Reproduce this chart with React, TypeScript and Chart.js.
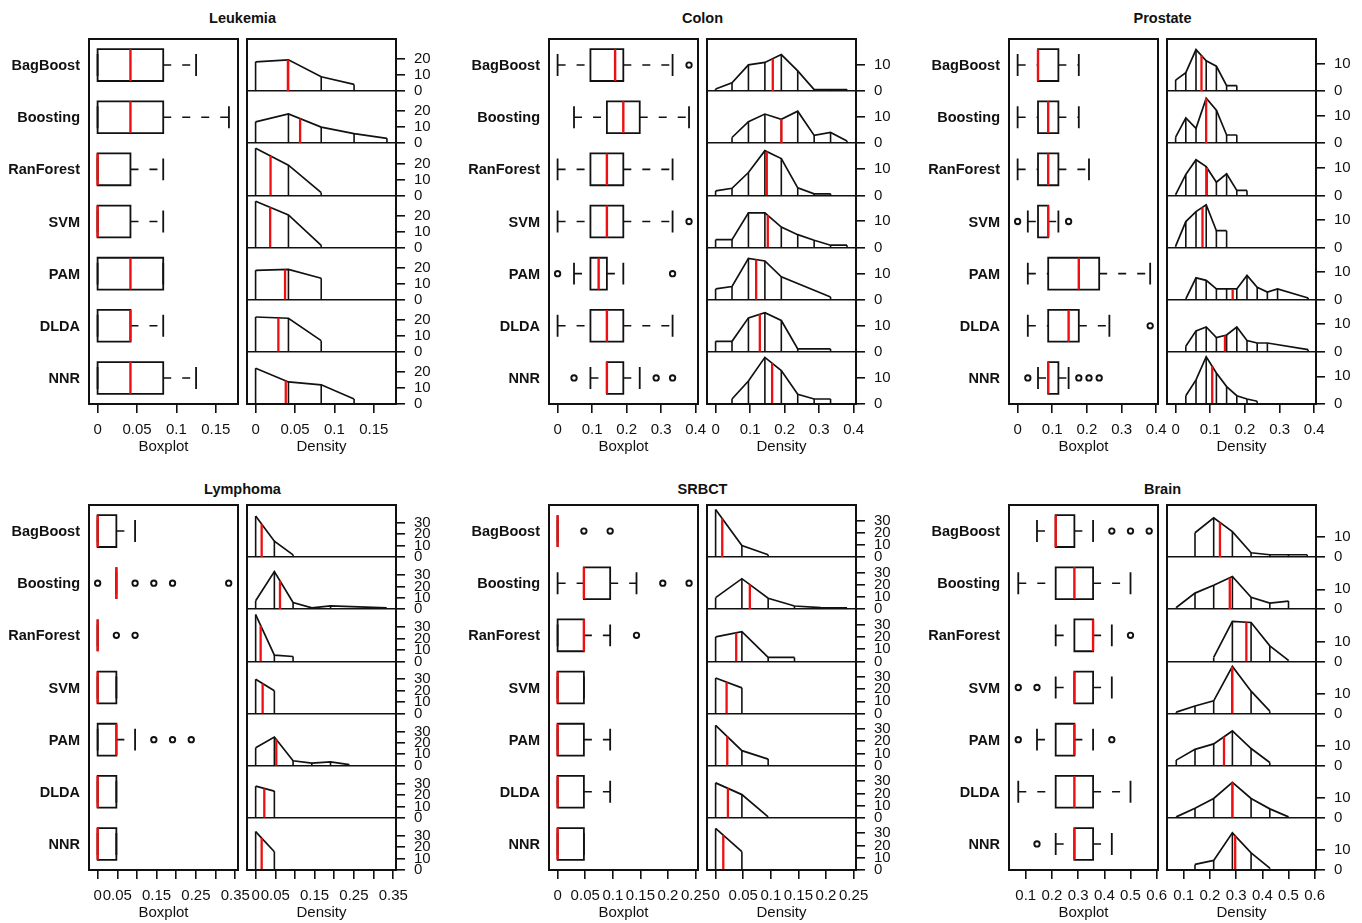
import React, { useEffect, useRef } from 'react';
import { Chart, registerables } from 'chart.js';
Chart.register(...registerables);

const FONT = '"Liberation Sans", Arial, Helvetica, sans-serif';
const INK = '#111';
const RED = '#ee1010';

const methods = ['BagBoost', 'Boosting', 'RanForest', 'SVM', 'PAM', 'DLDA', 'NNR'];

// ---------------- Leukemia ----------------
// box stats: [lower whisker, Q1, median, Q3, upper whisker]
const leukemiaBox = [
  [0, 0, 0.0417, 0.0833, 0.125],
  [0, 0, 0.0417, 0.0833, 0.1667],
  [0, 0, 0, 0.0417, 0.0833],
  [0, 0, 0, 0.0417, 0.0833],
  [0, 0, 0.0417, 0.0833, 0.0833],
  [0, 0, 0.0417, 0.0417, 0.0833],
  [0, 0, 0.0417, 0.0833, 0.125],
];
const leukemiaOutliers = [[], [], [], [], [], [], []];
const leukemiaDensX = [
  [0, 0.0417, 0.0833, 0.125],
  [0, 0.0417, 0.0833, 0.125, 0.1667],
  [0, 0.0417, 0.0833],
  [0, 0.0417, 0.0833],
  [0, 0.0417, 0.0833],
  [0, 0.0417, 0.0833],
  [0, 0.0417, 0.0833, 0.125],
];
const leukemiaDensH = [
  [18.3, 19.6, 9.0, 4.2],
  [13.4, 18.4, 10.1, 6.0, 3.1],
  [29.5, 18.9, 1.7],
  [29.0, 20.4, 1.4],
  [18.4, 19.0, 13.4],
  [21.8, 21.0, 7.0],
  [22.3, 13.8, 12.0, 3.1],
];
const leukemiaMeans = [0.041, 0.0565, 0.019, 0.0185, 0.0374, 0.0289, 0.0383];
const leukemiaXRange = [-0.0109, 0.1782];
const leukemiaXTicks = [0, 0.05, 0.1, 0.15];
const leukemiaXLabels = ['0', '0.05', '0.1', '0.15'];
const leukemiaYMax = 32.6;
const leukemiaYTicks = [0, 10, 20];

// ---------------- Colon ----------------
const colonBox = [
  [0, 0.0952, 0.1667, 0.1905, 0.3333],
  [0.0476, 0.1429, 0.1905, 0.2381, 0.381],
  [0, 0.0952, 0.1429, 0.1905, 0.3333],
  [0, 0.0952, 0.1429, 0.1905, 0.3333],
  [0.0476, 0.0952, 0.119, 0.1429, 0.1905],
  [0, 0.0952, 0.1429, 0.1905, 0.3333],
  [0.0952, 0.1429, 0.1429, 0.1905, 0.2381],
];
const colonOutliers = [[0.381], [], [], [0.381], [0, 0.3333], [], [0.0476, 0.2857, 0.3333]];
const colonDensX = [
  [0, 0.0476, 0.0952, 0.1429, 0.1905, 0.2381, 0.2857, 0.3333, 0.381],
  [0.0476, 0.0952, 0.1429, 0.1905, 0.2381, 0.2857, 0.3333, 0.381],
  [0, 0.0476, 0.0952, 0.1429, 0.1905, 0.2381, 0.2857, 0.3333],
  [0, 0.0476, 0.0952, 0.1429, 0.1905, 0.2381, 0.2857, 0.3333, 0.381],
  [0, 0.0476, 0.0952, 0.1429, 0.1905, 0.3333],
  [0, 0.0476, 0.0952, 0.1429, 0.1905, 0.2381, 0.3333],
  [0.0476, 0.0952, 0.1429, 0.1905, 0.2381, 0.2857, 0.3333],
];
const colonDensH = [
  [0.8, 3.2, 10.0, 10.9, 13.9, 7.7, 0.6, 0.6, 0.6],
  [2.2, 8.2, 11.1, 9.1, 12.2, 3.0, 4.1, 0.9],
  [1.7, 2.7, 8.7, 17.0, 14.0, 2.9, 0.6, 0.6],
  [3.0, 3.0, 13.2, 13.2, 7.8, 4.9, 2.8, 0.9, 0.9],
  [4.1, 5.0, 15.7, 14.7, 8.7, 1.0],
  [4.0, 4.0, 12.9, 14.9, 11.9, 1.1, 1.1],
  [1.9, 8.7, 17.7, 12.7, 3.7, 1.9, 1.9],
];
const colonMeans = [0.1658, 0.1908, 0.1484, 0.1513, 0.1176, 0.1282, 0.1639];
const colonXRange = [-0.0249, 0.407];
const colonXTicks = [0, 0.1, 0.2, 0.3, 0.4];
const colonXLabels = ['0', '0.1', '0.2', '0.3', '0.4'];
const colonYMax = 19.8;
const colonYTicks = [0, 10];

// ---------------- Prostate ----------------
const prostateBox = [
  [0, 0.0588, 0.0588, 0.1176, 0.1765],
  [0, 0.0588, 0.0882, 0.1176, 0.1765],
  [0, 0.0588, 0.0882, 0.1176, 0.2059],
  [0.0294, 0.0588, 0.0882, 0.0882, 0.1176],
  [0.0294, 0.0882, 0.1765, 0.2353, 0.3824],
  [0.0294, 0.0882, 0.1471, 0.1765, 0.2647],
  [0.0588, 0.0882, 0.0882, 0.1176, 0.1471],
];
const prostateOutliers = [[], [], [], [0, 0.1471], [], [0.3824], [0.0294, 0.1765, 0.2059, 0.2353]];
const prostateDensX = [
  [0, 0.0294, 0.0588, 0.0882, 0.1176, 0.1471, 0.1765],
  [0, 0.0294, 0.0588, 0.0882, 0.1176, 0.1471, 0.1765],
  [0, 0.0294, 0.0588, 0.0882, 0.1176, 0.1471, 0.1765, 0.2059],
  [0, 0.0294, 0.0588, 0.0882, 0.1176, 0.1471],
  [0.0294, 0.0588, 0.0882, 0.1176, 0.1471, 0.1765, 0.2059, 0.2353, 0.2647, 0.2941, 0.3824],
  [0.0294, 0.0588, 0.0882, 0.1176, 0.1471, 0.1765, 0.2059, 0.2353, 0.2647, 0.3824],
  [0.0294, 0.0588, 0.0882, 0.1176, 0.1471, 0.1765, 0.2059, 0.2353],
];
const prostateDensH = [
  [4.0, 6.7, 15.0, 11.0, 9.0, 2.0, 2.0],
  [2.2, 9.2, 5.4, 16.3, 12.0, 3.0, 3.0],
  [0.3, 7.6, 12.9, 10.4, 4.8, 7.8, 1.8, 1.8],
  [0.5, 9.4, 13.0, 15.5, 6.1, 6.1],
  [0.3, 7.9, 7.0, 3.9, 3.9, 3.9, 8.8, 4.5, 2.8, 3.9, 0.6],
  [2.0, 7.6, 9.0, 5.2, 6.1, 9.0, 4.1, 3.2, 3.2, 0.8],
  [3.0, 8.7, 17.1, 11.2, 6.3, 3.0, 1.8, 1.0],
];
const prostateMeans = [0.0746, 0.0881, 0.0901, 0.0775, 0.1646, 0.1424, 0.1056];
const prostateXRange = [-0.0249, 0.405];
const prostateXTicks = [0, 0.1, 0.2, 0.3, 0.4];
const prostateXLabels = ['0', '0.1', '0.2', '0.3', '0.4'];
const prostateYMax = 18.85;
const prostateYTicks = [0, 10];

// ---------------- Lymphoma ----------------
const lymphomaBox = [
  [0, 0, 0, 0.0476, 0.0952],
  [0.0476, 0.0476, 0.0476, 0.0476, 0.0476],
  [0, 0, 0, 0, 0],
  [0, 0, 0, 0.0476, 0.0476],
  [0, 0, 0.0476, 0.0476, 0.0952],
  [0, 0, 0, 0.0476, 0.0476],
  [0, 0, 0, 0.0476, 0.0476],
];
const lymphomaOutliers = [[], [0, 0.0952, 0.1429, 0.1905, 0.3333], [0.0476, 0.0952], [], [0.1429, 0.1905, 0.2381], [], []];
const lymphomaDensX = [
  [0, 0.0476, 0.0952],
  [0, 0.0476, 0.0952, 0.1429, 0.1905, 0.3333],
  [0, 0.0476, 0.0952],
  [0, 0.0476],
  [0, 0.0476, 0.0952, 0.1429, 0.1905, 0.2381],
  [0, 0.0476],
  [0, 0.0476],
];
const lymphomaDensH = [
  [35.9, 14.0, 2.0],
  [7.4, 33.0, 5.9, 1.2, 2.9, 1.2],
  [41.0, 5.5, 4.3],
  [30.0, 20.0],
  [15.7, 25.1, 4.3, 2.3, 3.4, 0.9],
  [27.7, 23.4],
  [33.6, 16.0],
];
const lymphomaMeans = [0.0153, 0.0619, 0.0127, 0.0178, 0.0525, 0.022, 0.0153];
const lymphomaXRange = [-0.022, 0.357];
const lymphomaXTicks = [0, 0.05, 0.1, 0.15, 0.2, 0.25, 0.3, 0.35];
const lymphomaXLabels = ['0', '0.05', '', '0.15', '', '0.25', '', '0.35'];
const lymphomaYMax = 45.6;
const lymphomaYTicks = [0, 10, 20, 30];

// ---------------- SRBCT ----------------
const srbctBox = [
  [0, 0, 0, 0, 0],
  [0, 0.0476, 0.0476, 0.0952, 0.1429],
  [0, 0, 0.0476, 0.0476, 0.0952],
  [0, 0, 0, 0.0476, 0.0476],
  [0, 0, 0, 0.0476, 0.0952],
  [0, 0, 0, 0.0476, 0.0952],
  [0, 0, 0, 0.0476, 0.0476],
];
const srbctOutliers = [[0.0476, 0.0952], [0.1905, 0.2381], [0.1429], [], [], [], []];
const srbctDensX = [
  [0, 0.0476, 0.0952],
  [0, 0.0476, 0.0952, 0.1429, 0.1905, 0.2381],
  [0, 0.0476, 0.0952, 0.1429],
  [0, 0.0476],
  [0, 0.0476, 0.0952],
  [0, 0.0476, 0.0952],
  [0, 0.0476],
];
const srbctDensH = [
  [39.0, 9.5, 1.9],
  [9.5, 25.0, 9.0, 2.7, 1.4, 1.1],
  [20.0, 24.3, 3.3, 3.3],
  [29.0, 21.0],
  [33.0, 12.3, 5.4],
  [28.6, 19.0, 0.8],
  [34.0, 15.0],
];
const srbctMeans = [0.012, 0.062, 0.0373, 0.0199, 0.0211, 0.0223, 0.0139];
const srbctXRange = [-0.0156, 0.2543];
const srbctXTicks = [0, 0.05, 0.1, 0.15, 0.2, 0.25];
const srbctXLabels = ['0', '0.05', '0.1', '0.15', '0.2', '0.25'];
const srbctYMax = 42.6;
const srbctYTicks = [0, 10, 20, 30];

// ---------------- Brain ----------------
const brainBox = [
  [0.1429, 0.2143, 0.2143, 0.2857, 0.3571],
  [0.0714, 0.2143, 0.2857, 0.3571, 0.5],
  [0.2143, 0.2857, 0.3571, 0.3571, 0.4286],
  [0.2143, 0.2857, 0.2857, 0.3571, 0.4286],
  [0.1429, 0.2143, 0.2857, 0.2857, 0.3571],
  [0.0714, 0.2143, 0.2857, 0.3571, 0.5],
  [0.2143, 0.2857, 0.2857, 0.3571, 0.4286],
];
const brainOutliers = [[0.4286, 0.5, 0.5714], [], [0.5], [0.0714, 0.1429], [0.0714, 0.4286], [], [0.1429]];
const brainDensX = [
  [0.1429, 0.2143, 0.2857, 0.3571, 0.4286, 0.5, 0.5714],
  [0.0714, 0.1429, 0.2143, 0.2857, 0.3571, 0.4286, 0.5],
  [0.2143, 0.2857, 0.3571, 0.4286, 0.5],
  [0.0714, 0.1429, 0.2143, 0.2857, 0.3571, 0.4286],
  [0.0714, 0.1429, 0.2143, 0.2857, 0.3571, 0.4286],
  [0.0714, 0.1429, 0.2143, 0.2857, 0.3571, 0.4286, 0.5],
  [0.1429, 0.2143, 0.2857, 0.3571, 0.4286],
];
const brainDensH = [
  [12.2, 19.7, 12.8, 2.2, 1.2, 1.2, 1.2],
  [0.9, 8.1, 12.0, 16.4, 6.0, 3.1, 4.1],
  [2.0, 20.0, 19.5, 7.8, 0.5],
  [0.7, 3.8, 6.4, 23.6, 11.2, 1.2],
  [2.8, 8.2, 10.9, 17.4, 8.6, 1.6],
  [0.5, 4.8, 9.7, 17.8, 9.7, 4.5, 0.5],
  [2.8, 4.8, 18.6, 8.6, 0.9],
];
const brainMeans = [0.2382, 0.2757, 0.339, 0.2848, 0.2537, 0.286, 0.2964];
const brainXRange = [0.036, 0.605];
const brainXTicks = [0.1, 0.2, 0.3, 0.4, 0.5, 0.6];
const brainXLabels = ['0.1', '0.2', '0.3', '0.4', '0.5', '0.6'];
const brainYMax = 26.1;
const brainYTicks = [0, 10];

// ---------------- layout ----------------
const COL_X = [0, 460, 920];
const ROW_Y = [39, 505];
const TITLE_Y = [10, 481];
const FRAME_H = 365;
const FRAME_W = 149;
const BOX_AXIS_W = 89;
const DENS_OFFSET = 247;
const PAD_TOP = 20;
const BOX_PAD_R = 24;
const DENS_PAD_L = 8;
const DENS_AXIS_W = 40;
const X_AXIS_H = 52;
const HB = 0.305;
const HC = 0.21;
const TICK_FONT = 15;

const panels = [
  { title: 'Leukemia', col: 0, row: 0, box: leukemiaBox, outliers: leukemiaOutliers, densX: leukemiaDensX, densH: leukemiaDensH, means: leukemiaMeans, xRange: leukemiaXRange, xTicks: leukemiaXTicks, xLabels: leukemiaXLabels, yMax: leukemiaYMax, yTicks: leukemiaYTicks },
  { title: 'Colon', col: 1, row: 0, box: colonBox, outliers: colonOutliers, densX: colonDensX, densH: colonDensH, means: colonMeans, xRange: colonXRange, xTicks: colonXTicks, xLabels: colonXLabels, yMax: colonYMax, yTicks: colonYTicks },
  { title: 'Prostate', col: 2, row: 0, box: prostateBox, outliers: prostateOutliers, densX: prostateDensX, densH: prostateDensH, means: prostateMeans, xRange: prostateXRange, xTicks: prostateXTicks, xLabels: prostateXLabels, yMax: prostateYMax, yTicks: prostateYTicks },
  { title: 'Lymphoma', col: 0, row: 1, box: lymphomaBox, outliers: lymphomaOutliers, densX: lymphomaDensX, densH: lymphomaDensH, means: lymphomaMeans, xRange: lymphomaXRange, xTicks: lymphomaXTicks, xLabels: lymphomaXLabels, yMax: lymphomaYMax, yTicks: lymphomaYTicks },
  { title: 'SRBCT', col: 1, row: 1, box: srbctBox, outliers: srbctOutliers, densX: srbctDensX, densH: srbctDensH, means: srbctMeans, xRange: srbctXRange, xTicks: srbctXTicks, xLabels: srbctXLabels, yMax: srbctYMax, yTicks: srbctYTicks },
  { title: 'Brain', col: 2, row: 1, box: brainBox, outliers: brainOutliers, densX: brainDensX, densH: brainDensH, means: brainMeans, xRange: brainXRange, xTicks: brainXTicks, xLabels: brainXLabels, yMax: brainYMax, yTicks: brainYTicks },
];

Chart.defaults.font.family = FONT;
Chart.defaults.color = INK;

const framePlugin = {
  id: 'panelFrame',
  afterDatasetsDraw(chart: any) {
    const { ctx, chartArea } = chart;
    ctx.save();
    ctx.strokeStyle = INK;
    ctx.lineWidth = 2;
    ctx.strokeRect(chartArea.left, chartArea.top, chartArea.right - chartArea.left, chartArea.bottom - chartArea.top);
    ctx.restore();
  },
};

function seg(data: any[], color: string, width: number, order: number, extra: any = {}) {
  return {
    type: 'line',
    data,
    borderColor: color,
    borderWidth: width,
    pointRadius: 0,
    pointHoverRadius: 0,
    pointHitRadius: 0,
    fill: false,
    tension: 0,
    spanGaps: false,
    borderCapStyle: 'butt',
    borderJoinStyle: 'miter',
    order,
    ...extra,
  };
}

function interp(xs: number[], hs: number[], m: number) {
  for (let k = 0; k < xs.length - 1; k++) {
    if (m >= xs[k] && m <= xs[k + 1]) {
      const t = (m - xs[k]) / (xs[k + 1] - xs[k]);
      return hs[k] + t * (hs[k + 1] - hs[k]);
    }
  }
  return m <= xs[0] ? hs[0] : hs[hs.length - 1];
}

function xScale(p: any, title: string) {
  return {
    type: 'linear',
    position: 'bottom',
    min: p.xRange[0],
    max: p.xRange[1],
    afterBuildTicks: (s: any) => { s.ticks = p.xTicks.map((v: number) => ({ value: v })); },
    afterFit: (s: any) => { s.height = X_AXIS_H; },
    ticks: {
      autoSkip: false, maxRotation: 0, minRotation: 0, padding: 8, color: INK,
      font: { size: TICK_FONT },
      callback: (_v: any, i: number) => p.xLabels[i],
    },
    grid: { display: true, drawOnChartArea: false, drawTicks: true, tickLength: 9, color: INK, lineWidth: 1.6 },
    border: { display: false },
    title: { display: true, text: title, color: INK, font: { size: TICK_FONT }, padding: 0 },
  };
}

function boxConfig(p: any) {
  const boxPts: any[] = [];
  const whisk: any[] = [];
  const caps: any[] = [];
  const meds: any[] = [];
  const outs: any[] = [];
  p.box.forEach((s: number[], i: number) => {
    const [lo, q1, md, q3, hi] = s;
    boxPts.push({ x: q1, y: i }, { x: q1, y: i - HB }, { x: q3, y: i - HB }, { x: q3, y: i + HB }, { x: q1, y: i + HB }, { x: q1, y: i }, { x: q1, y: null });
    whisk.push({ x: lo, y: i }, { x: q1, y: i }, { x: q1, y: null }, { x: q3, y: i }, { x: hi, y: i }, { x: hi, y: null });
    caps.push({ x: lo, y: i - HC }, { x: lo, y: i + HC }, { x: lo, y: null }, { x: hi, y: i - HC }, { x: hi, y: i + HC }, { x: hi, y: null });
    meds.push({ x: md, y: i - HB }, { x: md, y: i + HB }, { x: md, y: null });
    p.outliers[i].forEach((o: number) => outs.push({ x: o, y: i }));
  });
  return {
    type: 'line',
    data: {
      datasets: [
        seg(meds, RED, 2.4, 0),
        {
          type: 'line', data: outs, showLine: false, pointRadius: 2.7, pointBorderWidth: 1.9,
          pointBorderColor: INK, pointBackgroundColor: 'rgba(0,0,0,0)', pointHoverRadius: 2.7, order: 1,
        },
        seg(boxPts, INK, 1.8, 2),
        seg(caps, INK, 1.8, 3),
        seg(whisk, INK, 1.6, 4, { borderDash: [8, 11] }),
      ],
    },
    options: {
      responsive: false,
      animation: false,
      events: [],
      layout: { autoPadding: false, padding: { top: PAD_TOP, right: BOX_PAD_R, left: 0, bottom: 0 } },
      plugins: { legend: { display: false }, tooltip: { enabled: false } },
      scales: {
        x: xScale(p, 'Boxplot'),
        y: {
          type: 'linear', position: 'left', min: -0.5, max: 6.5, reverse: true,
          afterBuildTicks: (s: any) => { s.ticks = methods.map((_m, i) => ({ value: i })); },
          afterFit: (s: any) => { s.width = BOX_AXIS_W; },
          ticks: {
            autoSkip: false, padding: 9, color: INK, labelOffset: 1,
            font: { size: 14.5, weight: 'bold' },
            callback: (v: any) => methods[v],
          },
          grid: { display: false, drawTicks: false },
          border: { display: false },
        },
      },
    },
    plugins: [framePlugin],
  };
}

function densConfig(p: any) {
  const datasets: any[] = [];
  const scales: any = { x: xScale(p, 'Density') };
  for (let j = 0; j < methods.length; j++) {
    const id = 'y' + j;
    const xs = p.densX[j];
    const hs = p.densH[j];
    const poly = xs.map((x: number, k: number) => ({ x, y: hs[k] }));
    const verts: any[] = [];
    xs.forEach((x: number, k: number) => { verts.push({ x, y: 0 }, { x, y: hs[k] }, { x, y: null }); });
    const m = p.means[j];
    const meanLine = [{ x: m, y: 0 }, { x: m, y: interp(xs, hs, m) }];
    datasets.push(seg(meanLine, RED, 2.3, 0, { yAxisID: id }));
    datasets.push(seg(verts, INK, 1.6, 1, { yAxisID: id }));
    datasets.push(seg(poly, INK, 1.7, 2, { yAxisID: id }));
    scales[id] = {
      type: 'linear', position: 'right', stack: 'dens', stackWeight: 1, offset: false,
      min: 0, max: p.yMax,
      afterBuildTicks: (s: any) => { s.ticks = p.yTicks.map((v: number) => ({ value: v })); },
      afterFit: (s: any) => { s.width = DENS_AXIS_W; },
      ticks: { autoSkip: false, padding: 9, color: INK, font: { size: TICK_FONT }, callback: (v: any) => String(v) },
      grid: {
        display: true, drawOnChartArea: true, drawTicks: true, tickLength: 9, lineWidth: 1.6,
        color: (c: any) => (c.tick && c.tick.value === 0 ? INK : 'rgba(0,0,0,0)'),
        tickColor: INK,
      },
      border: { display: false },
    };
  }
  return {
    type: 'line',
    data: { datasets },
    options: {
      responsive: false,
      animation: false,
      events: [],
      layout: { autoPadding: false, padding: { top: PAD_TOP, right: 0, left: DENS_PAD_L, bottom: 0 } },
      plugins: { legend: { display: false }, tooltip: { enabled: false } },
      scales,
    },
    plugins: [framePlugin],
  };
}

function Panel({ p }: { p: any }) {
  const boxRef = useRef<HTMLCanvasElement>(null);
  const densRef = useRef<HTMLCanvasElement>(null);
  useEffect(() => {
    const c1 = new Chart(boxRef.current as any, boxConfig(p) as any);
    const c2 = new Chart(densRef.current as any, densConfig(p) as any);
    return () => { c1.destroy(); c2.destroy(); };
  }, [p]);
  const cx = COL_X[p.col];
  const ry = ROW_Y[p.row];
  const boxW = BOX_AXIS_W + FRAME_W + BOX_PAD_R;
  const densW = DENS_PAD_L + FRAME_W + DENS_AXIS_W;
  const h = PAD_TOP + FRAME_H + X_AXIS_H;
  return (
    <>
      <div style={{
        position: 'absolute', left: cx + BOX_AXIS_W, top: TITLE_Y[p.row], width: DENS_OFFSET + FRAME_W - BOX_AXIS_W,
        textAlign: 'center', font: `bold 14.5px ${FONT}`, lineHeight: '16px', color: INK,
      }}>{p.title}</div>
      <canvas ref={boxRef} width={boxW} height={h}
        style={{ position: 'absolute', left: cx, top: ry - PAD_TOP, width: boxW, height: h }} />
      <canvas ref={densRef} width={densW} height={h}
        style={{ position: 'absolute', left: cx + DENS_OFFSET - DENS_PAD_L, top: ry - PAD_TOP, width: densW, height: h }} />
    </>
  );
}

export default function App() {
  return (
    <div style={{ position: 'absolute', left: 0, top: 0, width: 1362, height: 923, overflow: 'hidden', background: '#fff', fontFamily: FONT }}>
      {panels.map((p, k) => <Panel key={k} p={p} />)}
    </div>
  );
}
